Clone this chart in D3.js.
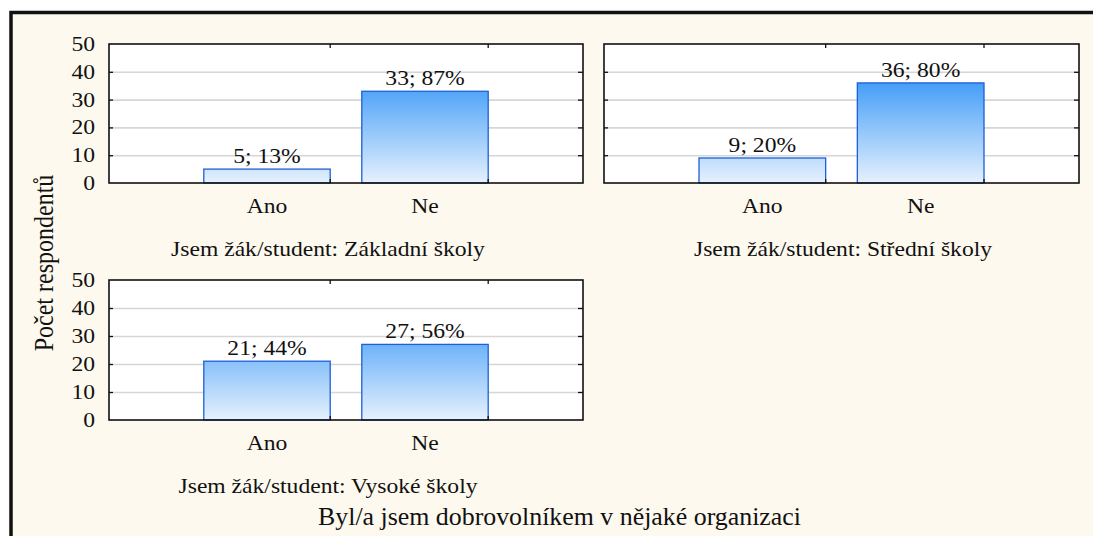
<!DOCTYPE html>
<meta charset="utf-8">
<style>
  html, body { margin: 0; background: #fff; overflow: hidden; }
  svg { display: block; }
  text { fill: #111; }
  .grid line { stroke: #d6d6d6; stroke-width: 1.6; }
  .ticks line { stroke: #111; stroke-width: 1.3; }
</style>

<svg class="chart" width="1093" height="536"></svg>

<script src="https://d3js.org/d3.v7.min.js"></script>
<script>

  var categories = ["Ano", "Ne"];
  var groups = ["Jsem žák/student: Základní školy", "Jsem žák/student: Střední školy", "Jsem žák/student: Vysoké školy"];
  var counts = [[5, 33], [9, 36], [21, 27]];
  var percents = [[13, 87], [20, 80], [44, 56]];
  var yTicks = [0, 10, 20, 30, 40, 50];
  var yTitle = "Počet respondentů";
  var xTitle = "Byl/a jsem dobrovolníkem v nějaké organizaci";

  var FONT = "'Liberation Serif', 'DejaVu Serif', 'Times New Roman', Times, serif";
  var svg = d3.select(".chart");
  var SX = 1.18; // the reference text is a little stretched sideways

  // outer frame
  svg.append("rect")
      .attr("x", 11).attr("y", 12.5)
      .attr("width", 1200).attr("height", 700)
      .attr("fill", "#fdf9ee")
      .attr("stroke", "#111")
      .attr("stroke-width", 3.5);

  // panel boxes: left, right, top, bottom, subtitle centre, has y labels
  var panels = [
    {x0: 109, x1: 583, y0: 44, y1: 183, tx: 328, yLabels: true},
    {x0: 604, x1: 1079, y0: 44, y1: 183, tx: 843, yLabels: false},
    {x0: 109, x1: 583, y0: 280, y1: 420, tx: 328, yLabels: true}
  ];

  function label(g, x, y, s, size, anchor) {
    return g.append("text")
        .attr("transform", "translate(" + x + "," + y + ") scale(" + SX + ",1)")
        .attr("text-anchor", anchor || "middle")
        .attr("font-family", FONT)
        .attr("font-size", size)
        .text(s);
  }

  panels.forEach(function (p, i) {
    var w = p.x1 - p.x0;
    var x = d3.scaleBand()
        .domain(categories)
        .range([p.x0 + w / 6, p.x1 - w / 6])
        .paddingInner(0.2)
        .paddingOuter(0.1);
    var y = d3.scaleLinear()
        .domain([0, 50])
        .range([p.y1, p.y0]);

    var g = svg.append("g");

    var grad = svg.append("defs").append("linearGradient")
        .attr("id", "grad" + i)
        .attr("gradientUnits", "userSpaceOnUse")
        .attr("x1", 0).attr("y1", y(0))
        .attr("x2", 0).attr("y2", y(50));
    grad.append("stop").attr("offset", 0).attr("stop-color", "#e6f1fd");
    grad.append("stop").attr("offset", 0.75).attr("stop-color", "#3f9bf8");
    grad.append("stop").attr("offset", 1).attr("stop-color", "#3a97f7");

    g.append("rect")
        .attr("x", p.x0).attr("y", p.y0)
        .attr("width", w).attr("height", p.y1 - p.y0)
        .attr("fill", "#fff");

    g.append("g")
        .attr("class", "grid")
        .attr("transform", "translate(" + p.x0 + ",0)")
        .call(d3.axisLeft(y).tickValues([10, 20, 30, 40]).tickSize(-w).tickFormat(""))
        .call(function (s) { s.select(".domain").remove(); });

    // bars
    g.selectAll(".bar")
        .data(categories)
        .enter().append("rect")
          .attr("x", function (d) { return x(d); })
          .attr("y", function (d, j) { return y(counts[i][j]); })
          .attr("width", x.bandwidth())
          .attr("height", function (d, j) { return y(0) - y(counts[i][j]); })
          .attr("fill", "url(#grad" + i + ")")
          .attr("stroke", "#1d5fd6")
          .attr("stroke-width", 1.3);

    // value labels
    categories.forEach(function (c, j) {
      label(g, x(c) + x.bandwidth() / 2, y(counts[i][j]) - 6,
            counts[i][j] + "; " + percents[i][j] + "%", 20);
    });

    // inward ticks on all four sides
    var half = x.bandwidth() / 2;
    g.append("g").attr("class", "ticks")
        .attr("transform", "translate(" + half + "," + p.y0 + ")")
        .call(d3.axisTop(x).tickSize(-4).tickFormat(""));
    g.append("g").attr("class", "ticks")
        .attr("transform", "translate(" + half + "," + p.y1 + ")")
        .call(d3.axisBottom(x).tickSize(-4).tickFormat(""));
    g.append("g").attr("class", "ticks")
        .attr("transform", "translate(" + p.x0 + ",0)")
        .call(d3.axisLeft(y).tickValues([10, 20, 30, 40]).tickSize(-4).tickFormat(""));
    g.append("g").attr("class", "ticks")
        .attr("transform", "translate(" + p.x1 + ",0)")
        .call(d3.axisRight(y).tickValues([10, 20, 30, 40]).tickSize(-5).tickFormat(""));
    g.selectAll(".ticks .domain").remove();

    g.append("rect")
        .attr("x", p.x0).attr("y", p.y0)
        .attr("width", w).attr("height", p.y1 - p.y0)
        .attr("fill", "none")
        .attr("stroke", "#111")
        .attr("stroke-width", 1.6);

    // category labels
    categories.forEach(function (c) {
      label(g, x(c) + half, p.y1 + 30, c, 20);
    });

    if (p.yLabels) {
      yTicks.forEach(function (t) {
        label(g, p.x0 - 14, y(t) + 7, t, 20, "end");
      });
    }

    label(g, p.tx, p.y1 + 73, groups[i], 20);
  });

  svg.append("text")
      .attr("transform", "translate(53,263) scale(1.16,1) rotate(-90)")
      .attr("text-anchor", "middle")
      .attr("font-family", FONT)
      .attr("font-size", 24)
      .text(yTitle);

  svg.append("text")
      .attr("x", 318).attr("y", 525)
      .attr("textLength", 483)
      .attr("lengthAdjust", "spacingAndGlyphs")
      .attr("font-family", FONT)
      .attr("font-size", 25)
      .text(xTitle);

</script>
